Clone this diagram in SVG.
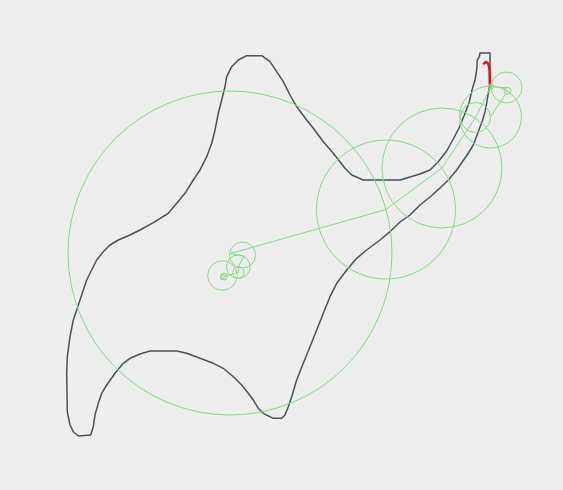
<svg xmlns="http://www.w3.org/2000/svg" width="563" height="490" viewBox="0 0 563 490">
<style>
.bg{fill:#eeeeee}
.ep circle{fill:none;stroke:#84dc84;stroke-width:1}
.ep line{stroke:#84dc84;stroke-width:1}
.trace{fill:none;stroke:#46525c;stroke-width:1.5;stroke-linejoin:round}
.pen{fill:none;stroke:#ee1111;stroke-width:2.5;stroke-linecap:round}
</style>
<rect class="bg" width="563" height="490"/>
<g id="trace">
<path class="trace" d="M490,53 L490,67 L489.5,87 L488.3,93 L486.7,103 L485,112 L482.7,120 L480,127 L476.7,136 L473.3,145 L469,152 L465,158 L456.7,170 L448.3,180 L440,188 L430,197 L420,205 L410,215 L400,222 L390,231.7 L380,240 L366.7,250 L356.7,258.3 L346.7,270 L336.7,283.3 L330,296.7 L323.3,313.3 L316.7,330 L310,346.7 L303.3,363.3 L296.7,380 L291.7,396.7 L288.3,406.7 L285,415 L281.7,418.3 L273.3,418.3 L263.3,413.3 L258.3,408.3 L253.3,400 L248.3,393.3 L241.7,385 L233.3,376.7 L223.3,368.3 L213.3,363.3 L200,358.3 L186.7,353.3 L176.7,351 L150,351 L140,354 L130,358.3 L123.3,363.3 L115,373.3 L106.7,385 L101.7,393.3 L98.3,403.3 L95,415 L93.3,426.7 L90.7,435 L78.3,436 L73.3,431.7 L70,425 L67.3,411.7 L66.7,373.3 L67.3,356.7 L70,336.7 L73.3,320 L76.7,310 L80,300 L83.3,290 L86.7,280 L91.7,270 L96.7,260 L103.3,251.7 L110,245 L118.3,240 L130,235 L140,230 L153.3,222.7 L168.3,213.3 L176.7,203.3 L185,193.3 L193.3,180 L200,170 L206.7,156.7 L211.7,143.3 L215,130 L218.3,113.3 L221.7,100 L225,86.7 L226.7,76.7 L231.7,66.7 L238.3,60 L246.7,55.7 L261.7,55.7 L270,61.7 L276.7,71.7 L283.3,81.7 L290,95 L296.7,106.7 L306.7,120 L313.3,128.3 L323.3,141.7 L333.3,153.3 L345,168.3 L351.7,175 L363.3,180 L400,180 L420,174 L430,170 L438.3,161.7 L446.7,151 L453.3,139 L459,128 L464,116 L469,103 L472,90 L475,80 L476.7,70 L477.3,60 L479.3,56.7 L480,53 Z"/>
<path class="pen" d="M490,86 L489.5,70 Q489,62.5 486,62 L484,63.5"/>
</g>
<g id="epicycles" class="ep">
<circle cx="222" cy="277.5" r="1.5"/>
<circle cx="223" cy="277" r="2.5"/>
<circle cx="224" cy="276.5" r="3.5"/>
<circle cx="222.5" cy="275.5" r="14.8"/>
<circle cx="238.3" cy="272.5" r="5.8"/>
<circle cx="238.3" cy="266.7" r="11.8"/>
<circle cx="242.5" cy="255" r="13"/>
<circle cx="230" cy="253" r="162"/>
<circle cx="386" cy="209.5" r="69.5"/>
<circle cx="442" cy="168" r="60"/>
<circle cx="475.5" cy="117.5" r="15"/>
<circle cx="490.5" cy="117" r="31"/>
<circle cx="507.5" cy="90.8" r="3.5"/>
<circle cx="506.5" cy="87.5" r="15.5"/>
<circle cx="491" cy="86.5" r="2.5"/>
<circle cx="491" cy="86.5" r="1.3"/>
<line x1="224" y1="276.5" x2="238.3" y2="272.5"/>
<line x1="238.3" y1="272.5" x2="238.3" y2="266.7"/>
<line x1="238.3" y1="266.7" x2="244" y2="256"/>
<line x1="244" y1="256" x2="230.5" y2="253.5"/>
<line x1="230.5" y1="253.5" x2="386" y2="209.5"/>
<line x1="386" y1="209.5" x2="442" y2="168"/>
<line x1="442" y1="168" x2="475.5" y2="117.5"/>
<line x1="475.5" y1="117.5" x2="491" y2="86.5"/>
<line x1="490.5" y1="117" x2="507.5" y2="90.8"/>
<line x1="507.5" y1="88" x2="491" y2="86.5"/>
</g>
</svg>
